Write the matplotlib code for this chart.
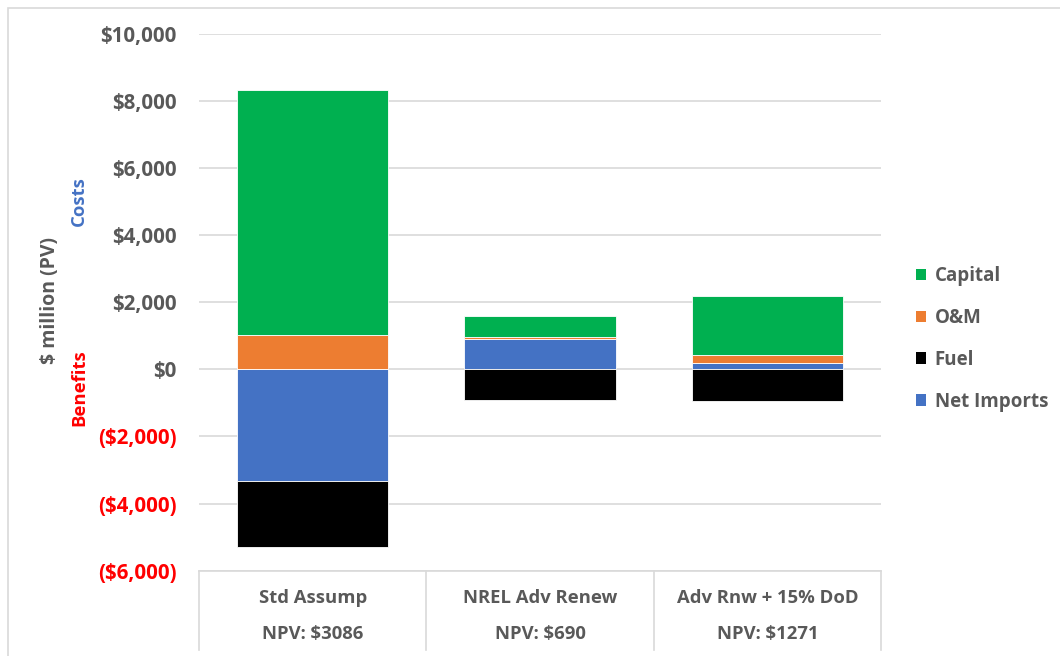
import numpy as np
import matplotlib
matplotlib.use('Agg')
import matplotlib.pyplot as plt
from matplotlib.patches import Patch, Rectangle
from matplotlib.lines import Line2D
import matplotlib.transforms as mtransforms

plt.rcParams['font.family'] = ['Open Sans', 'DejaVu Sans']
plt.rcParams['font.weight'] = 'bold'

categories = ['Std Assump', 'NREL Adv Renew', 'Adv Rnw + 15% DoD']
npv_labels = ['NPV: $3086', 'NPV: $690', 'NPV: $1271']
net_imports = [-3330, 910, 190]
fuel = [-1950, -910, -930]
om = [1030, 40, 230]
capital = [7290, 640, 1770]

series = [('Net Imports', net_imports, '#4472C4'),
          ('Fuel', fuel, '#000000'),
          ('O&M', om, '#ED7D31'),
          ('Capital', capital, '#00B050')]

gray = '#595959'

fig = plt.figure(figsize=(10.6, 6.56), dpi=100)
ax = fig.add_axes([199/1060, 1 - 570.7/656, (881 - 199)/1060, (570.7 - 33.7)/656])

x = np.arange(len(categories))
pos_bottom = np.zeros(len(categories))
neg_bottom = np.zeros(len(categories))
for name, vals, col in series:
    vals = np.array(vals, dtype=float)
    bottoms = np.where(vals >= 0, pos_bottom, neg_bottom)
    ax.bar(x, vals, width=0.665, bottom=bottoms, color=col, edgecolor='white',
           linewidth=0.6, zorder=3)
    pos_bottom = pos_bottom + np.where(vals >= 0, vals, 0)
    neg_bottom = neg_bottom + np.where(vals < 0, vals, 0)

ax.set_xlim(-0.5, 2.5)
ax.set_ylim(-6000, 10000)
yt = np.arange(-6000, 10001, 2000)
ax.set_yticks(yt)
ylabels = []
for v in yt:
    if v < 0:
        ylabels.append('(${:,})'.format(-v))
    else:
        ylabels.append('${:,}'.format(v))
ax.set_yticklabels(ylabels, fontsize=14.8, fontweight='bold')
for lab, v in zip(ax.get_yticklabels(), yt):
    lab.set_color('#FF0000' if v < 0 else gray)
ax.tick_params(axis='y', length=0, pad=16)
ax.grid(axis='y', color='#D9D9D9', linewidth=1.2, zorder=0)
for s in ['left', 'right', 'top']:
    ax.spines[s].set_visible(False)
ax.spines['bottom'].set_color('#D9D9D9')
ax.spines['bottom'].set_linewidth(1.2)

# category labels as a two-row table below the plot
ax.set_xticks([])
trans = mtransforms.blended_transform_factory(ax.transData, ax.transAxes)
for i, (c, n) in enumerate(zip(categories, npv_labels)):
    ax.text(i, -0.05, c, transform=trans, ha='center', va='center',
            fontsize=13.3, color=gray, fontweight='bold')
    ax.text(i, -0.118, n, transform=trans, ha='center', va='center',
            fontsize=13.3, color=gray, fontweight='bold')
for b in [-0.5, 0.5, 1.5, 2.5]:
    ax.add_line(Line2D([b, b], [0, -0.148], transform=trans, color='#D9D9D9',
                       linewidth=1.2, clip_on=False))

# axis title pieces
fig.text(50/1060, 1 - 301/656, '$ million (PV)', rotation=90, ha='center', va='center',
         fontsize=14, color=gray, fontweight='bold')
fig.text(79/1060, 1 - 201/656, 'Costs', rotation=90, ha='center', va='center',
         fontsize=13.3, color='#4472C4', fontweight='bold')
fig.text(79/1060, 1 - 388/656, 'Benefits', rotation=90, ha='center', va='center',
         fontsize=13.3, color='#FF0000', fontweight='bold')

handles = [Patch(facecolor=col, label=name) for name, vals, col in series[::-1]]
leg = fig.legend(handles=handles, loc='upper left', bbox_to_anchor=(899/1060, 1 - 249/656),
                 frameon=False, fontsize=13.5, handlelength=0.55, handleheight=0.55,
                 handletextpad=0.45, labelspacing=1.17)
for t in leg.get_texts():
    t.set_color(gray)
    t.set_fontweight('bold')

# outer chart frame (cropped on right/bottom)
fig.patches.append(Rectangle((8/1060, -0.05), 1.1, 1 - 8.5/656 + 0.05,
                             transform=fig.transFigure, fill=False,
                             edgecolor='#D9D9D9', linewidth=1.2))

fig.savefig('out.png', dpi=100)
